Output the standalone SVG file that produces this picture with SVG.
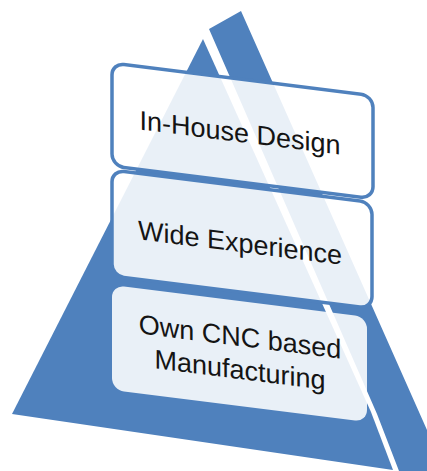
<svg xmlns="http://www.w3.org/2000/svg" width="427" height="471" viewBox="0 0 427 471">
  <style>
    .face { fill: #4f81bd; }
    .box { fill: #ffffff; fill-opacity: 0.88; stroke: #4f81bd; stroke-width: 3.5; }
    .box3 { fill: #ffffff; fill-opacity: 0.88; stroke: none; }
    .lbl { font-family: "Liberation Sans", Arial, sans-serif; font-size: 27px; fill: #141414; text-anchor: middle; }
  </style>
  <rect width="427" height="471" fill="#ffffff"/>
  <g id="pyramid">
    <polygon class="face" points="203,39 12,414 393,470 371,412"/>
    <polygon class="face" points="209,29 241,11 427,430 427,471 399,471 377,414"/>
  </g>
  <g id="connectors"/>
  <g id="node-inhouse-design" transform="matrix(1 0.125 0 1 0 0)">
    <rect class="box" x="112" y="49" width="261" height="103" rx="12"/>
    <text class="lbl" x="240" y="112">In-House Design</text>
  </g>
  <g id="node-wide-experience" transform="matrix(1 0.125 0 1 0 0)">
    <rect class="box" x="112" y="156" width="260" height="106" rx="12"/>
    <text class="lbl" x="240" y="222">Wide Experience</text>
  </g>
  <g id="node-own-cnc" transform="matrix(1 0.125 0 1 0 0)">
    <rect class="box3" x="112" y="271" width="255" height="105" rx="12"/>
    <text class="lbl" x="240" y="316">Own CNC based</text>
    <text class="lbl" x="240" y="349">Manufacturing</text>
  </g>
</svg>
